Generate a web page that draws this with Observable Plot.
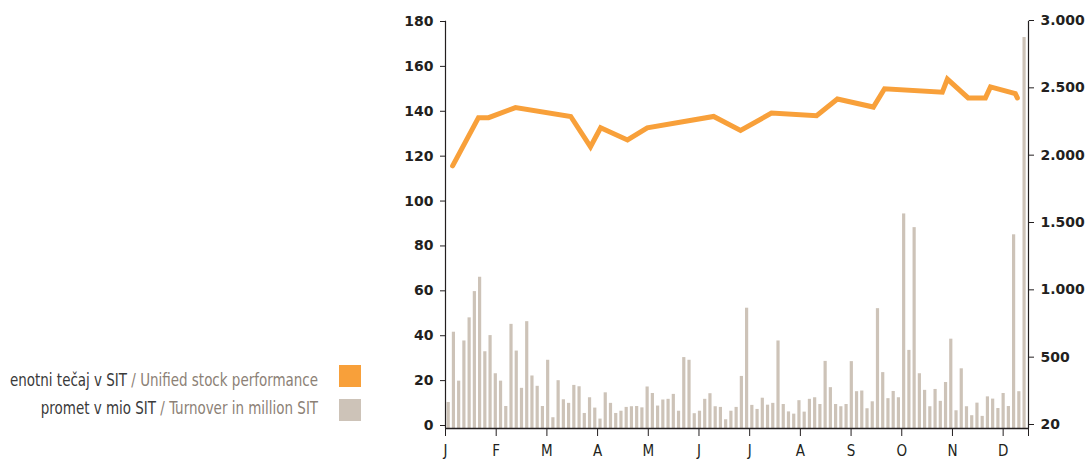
<!DOCTYPE html>
<html>
<head>
<meta charset="utf-8">
<script src="https://cdn.jsdelivr.net/npm/d3@7"></script>
<script src="https://cdn.jsdelivr.net/npm/@observablehq/plot@0.6"></script>
<style>
  html, body { margin: 0; padding: 0; background: #fff; overflow: hidden; }
  #wrap { position: relative; width: 1090px; height: 459px; }
  #chart { position: absolute; left: 0; top: 0; }
  .lg-row { position: absolute; right: 772px; text-align: right; white-space: nowrap;
            font-family: "Liberation Sans Narrow", "DejaVu Sans Condensed", "Roboto", sans-serif;
            font-size: 17px; line-height: 20px; color: #3a3a3a;
            transform: scaleX(0.88); transform-origin: right center; }
  .lg-row .en { color: #8c8176; }
  .sw { position: absolute; left: 339px; width: 22px; height: 22px; }
</style>
</head>
<body>
<div id="wrap">
  <div id="chart"></div>
  <div class="lg-row" style="top:370px">enotni tečaj v SIT <span class="en">/ Unified stock performance</span></div>
  <div class="lg-row" style="top:398px">promet v mio SIT <span class="en">/ Turnover in million SIT</span></div>
  <div class="sw" id="sw1" style="top:365px"></div>
  <div class="sw" id="sw2" style="top:399px"></div>
</div>
<script>
// ---- data ----
const monthLabels = ["J","F","M","A","M","J","J","A","S","O","N","D"];
const leftTicks = [0,20,40,60,80,100,120,140,160,180];
const rightTicks = [0,500,1000,1500,2000,2500,3000];
const rightTickLabels = ["20","500","1.000","1.500","2.000","2.500","3.000"];

// turnover (left axis units), one value per bar period
const turnover = [
  11.6,42.9,21.1,39.0,49.3,61.0,67.4,34.2,41.4,24.4,21.1,9.8,46.4,34.5,17.9,47.6,23.4,18.8,9.8,
  30.4,4.8,21.3,12.8,11.2,19.2,18.6,6.7,13.7,9.1,4.2,15.9,11.2,6.7,7.7,9.4,9.7,9.8,9.2,
  18.5,15.6,10.0,12.7,13.0,15.2,7.7,31.6,30.4,6.6,7.7,13.0,15.5,9.7,9.4,3.9,7.7,9.4,
  23.2,53.6,10.3,8.5,13.5,10.4,11.2,39.0,10.7,7.4,6.4,12.4,7.3,13.0,13.7,10.7,29.9,18.2,10.7,
  9.7,10.7,29.8,16.4,16.7,8.8,11.9,53.4,24.9,13.3,16.5,13.7,95.6,34.8,89.5,24.4,17.0,9.7,17.4,
  12.1,20.5,39.8,7.9,26.6,9.7,5.7,11.3,5.4,14.1,13.1,8.9,15.6,9.8,86.3,16.4,174.2
];

// unified stock price in SIT (right axis), at positions in months
const priceMonths = [0.14,0.65,0.85,1.38,2.47,2.86,3.06,3.59,3.98,5.29,5.82,6.43,7.32,7.73,8.44,8.66,9.80,9.90,10.31,10.65,10.75,11.24,11.28];
const priceSIT    = [1950,2308,2308,2383,2317,2092,2233,2143,2233,2317,2213,2342,2322,2447,2387,2523,2497,2595,2455,2455,2537,2487,2455];

// ---- styling ----
const orange = "#f8a03a";
const barColor = "#cdc3b8";
const ink = "#231f20";
const rightToLeft = 180 / 3000;   // right axis -> left axis units
const barStart = 0.053, barStep = 0.10327; // bar period spacing in months

document.getElementById("sw1").style.background = orange;
document.getElementById("sw2").style.background = barColor;

const barData = turnover.map((v, i) => ({x: barStart + i * barStep, v}));
const lineData = priceMonths.map((m, i) => ({m, y: priceSIT[i] * rightToLeft}));

const numFont = {fontFamily: "DejaVu Sans", fontSize: 14, fontWeight: "bold"};

const chart = Plot.plot({
  width: 1090,
  height: 470,
  marginLeft: 445,
  marginRight: 62,
  marginTop: 24,
  marginBottom: 42,
  x: {domain: [0, 11.5], axis: null},
  y: {domain: [0, 180], axis: null},
  marks: [
    Plot.ruleX(barData, {x: "x", y1: 0, y2: "v", stroke: barColor, strokeWidth: 3.2}),
    Plot.line(lineData, {x: "m", y: "y", stroke: orange, strokeWidth: 5, strokeLinejoin: "miter", strokeMiterlimit: 4}),
    Plot.ruleY([0], {stroke: ink, strokeWidth: 1.4}),
    Plot.ruleX([0], {y1: 0, y2: 181.5, stroke: ink, strokeWidth: 1.2}),
    Plot.ruleX([11.5], {y1: 0, y2: 181.5, stroke: ink, strokeWidth: 1.2}),
    Plot.axisY({anchor: "left", ticks: leftTicks, tickSize: 5, tickPadding: 7, dy: -3,
      color: ink, ...numFont}),
    Plot.axisY({anchor: "right", ticks: rightTicks.map(t => t * rightToLeft),
      tickFormat: (t, i) => rightTickLabels[i], tickSize: 5, tickPadding: 7, dy: -4,
      color: ink, ...numFont}),
    Plot.axisX({anchor: "bottom", ticks: [...monthLabels.keys(), 11.5],
      tickFormat: (t, i) => monthLabels[i] ?? "", tickSize: 8, tickPadding: 9,
      color: ink, fontFamily: "Liberation Sans Narrow, DejaVu Sans Condensed, sans-serif", fontSize: 15})
  ]
});
document.getElementById("chart").appendChild(chart);
</script>
</body>
</html>
